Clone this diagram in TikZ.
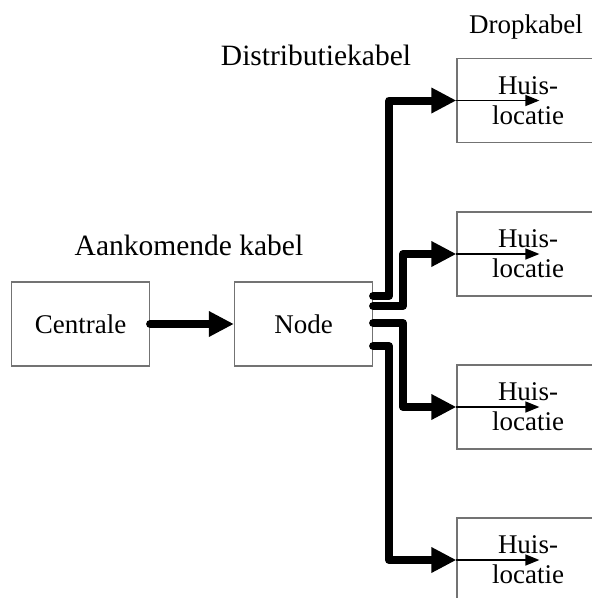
\documentclass[tikz,border=0pt]{standalone}
\usepackage{fontspec}
\setmainfont{Liberation Serif}
\usetikzlibrary{arrows.meta}

\begin{document}
\begin{tikzpicture}[x=1pt,y=-1pt,
                      box/.style={draw=black!55,line width=1.2pt,minimum width=138pt,minimum height=84pt,inner sep=0pt,font=\fontsize{27}{30}\selectfont},
                      huis/.style={box,minimum width=142pt,align=center,font=\fontsize{27}{30}\selectfont},
                      label/.style={font=\fontsize{29.5}{32}\selectfont,inner sep=0pt,anchor=base},
                      cable/.style={line width=8pt,line cap=round,line join=round,-{Triangle[length=25pt,width=24pt]}},
                      drop/.style={line width=1.4pt,-{Triangle[length=14pt,width=11pt]}}]
                      \useasboundingbox (0,0) rectangle (592,598);
                      \node[box] (Centrale) at (80.5,324) {Centrale};
                      \node[box] (Node) at (303.5,324) {Node};
                      \node[huis] (H1) at (528,100.5) {Huis-\\locatie};
                      \node[huis] (H2) at (528,254) {Huis-\\locatie};
                      \node[huis] (H3) at (528,407) {Huis-\\locatie};
                      \node[huis] (H4) at (528,560) {Huis-\\locatie};
                      \node[label] (L1) at (189,255) {Aankomende kabel};
                      \node[label] (L2) at (316,65) {Distributiekabel};
                      \node[label,font=\fontsize{27}{30}\selectfont] (L3) at (526,33) {Dropkabel};
                      \draw[cable] (Centrale) -- (Node);
                      \draw[cable] ([yshift=28pt]Node.east) -- ++(16,0) |- (H1.west);
                      \draw[cable] ([yshift=18pt]Node.east) -- ++(30,0) |- (H2.west);
                      \draw[cable] ([yshift=1pt]Node.east) -- ++(30,0) |- (H3.west);
                      \draw[cable] ([yshift=-22pt]Node.east) -- ++(16,0) |- (H4.west);
                      \draw[drop] (H1.west) -- ++(83,0);
                      \draw[drop] (H2.west) -- ++(83,0);
                      \draw[drop] (H3.west) -- ++(83,0);
                      \draw[drop] (H4.west) -- ++(83,0);
                    \end{tikzpicture}
\end{document}
